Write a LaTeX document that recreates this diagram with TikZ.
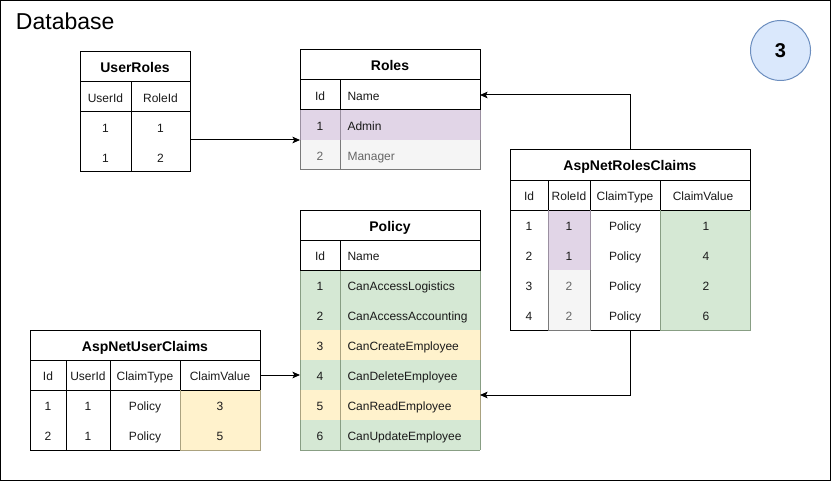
\documentclass[tikz,border=0pt]{standalone}
\usepackage{fontspec}
\setmainfont{Liberation Sans}
\usetikzlibrary{arrows.meta,calc}
\definecolor{purfill}{HTML}{E1D5E7}
\definecolor{purline}{HTML}{9A8FA0}
\definecolor{gryfill}{HTML}{F5F5F5}
\definecolor{gryline}{HTML}{7A7A7A}
\definecolor{grnfill}{HTML}{D5E8D4}
\definecolor{grnline}{HTML}{889E84}
\definecolor{ylwfill}{HTML}{FFF2CC}
\definecolor{ylwline}{HTML}{ABA27F}
\definecolor{circfill}{HTML}{DAE8FC}
\definecolor{circline}{HTML}{6C8EBF}
\definecolor{gtext}{HTML}{666666}
\definecolor{dtext}{HTML}{1A1A1A}
\begin{document}
\begin{tikzpicture}[x=0.75pt,y=-0.75pt,line width=0.75pt,
  t/.style={inner sep=0pt,anchor=base,text=dtext,font=\fontsize{9}{10}\selectfont},
  tl/.style={t,anchor=base west},
  tg/.style={t,text=gtext},
  tlg/.style={tl,text=gtext},
  ttl/.style={inner sep=0pt,anchor=base,text=black,font=\fontsize{10.5}{12}\selectfont\bfseries},
  blk/.style={draw=none,fill=none,inner sep=0pt,outer sep=0pt,rectangle},
  arr/.style={draw=black,-{Stealth[length=5.6pt,width=4.9pt,inset=1.2pt]}}]
\useasboundingbox (0,0) rectangle (831,481);
\fill[white] (0,0) rectangle (831,481);
\draw (0.5,0.5) rectangle (830.5,480.5);
\node[inner sep=0pt,anchor=base west,font=\fontsize{17.25}{20}\selectfont] (dbtitle) at (15.5,29.3) {Database};

% badge
\node[circle,draw=circline,fill=circfill,minimum size=45pt,inner sep=0pt,
  font=\fontsize{15}{18}\selectfont\bfseries] (badge) at (780.5,50.5) {3};

% ---------- UserRoles ----------
\draw (80,52) rectangle (190,172);
\draw (80,82)--(190,82) (80,112)--(190,112) (131,82)--(131,172);
\node[ttl] (urT) at (135,73) {UserRoles};
\node[t] (urH1) at (105.5,102.8) {UserId};
\node[t] (urH2) at (160.5,102.8) {RoleId};
\node[t] (ur11) at (105.5,132.8) {1};
\node[t] (ur12) at (160.5,132.8) {1};
\node[t] (ur21) at (105.5,162.8) {1};
\node[t] (ur22) at (160.5,162.8) {2};
\node[blk,minimum width=82.5pt,minimum height=45pt] (urbody) at (135,142) {};

% ---------- Roles ----------
\fill[purfill] (300,110) rectangle (480,140);
\fill[gryfill] (300,140) rectangle (480,170);
\draw (300,50) rectangle (480,110);
\draw (300,80)--(480,80) (340,80)--(340,110);
\draw[purline] (300,110)--(300,140) (340,110)--(340,140) (480,110)--(480,140);
\draw[gryline] (300,140)--(300,170)--(480,170)--(480,140) (340,140)--(340,170);
\node[ttl] (roT) at (390,71) {Roles};
\node[t] (roH1) at (320,100.8) {Id};
\node[tl] (roH2) at (347,100.8) {Name};
\node[t] (ro11) at (320,130.8) {1};
\node[tl] (ro12) at (347,130.8) {Admin};
\node[tg] (ro21) at (320,160.8) {2};
\node[tlg] (ro22) at (347,160.8) {Manager};
\node[blk,minimum width=135pt,minimum height=22.5pt] (roleshdr) at (390,95) {};
\node[blk,minimum width=135pt,minimum height=45pt] (rolesdata) at (390,140) {};

% ---------- Policy ----------
\foreach \ya/\cf/\cl in {270/grnfill/grnline,300/grnfill/grnline,330/ylwfill/ylwline,
                         360/grnfill/grnline,390/ylwfill/ylwline,420/grnfill/grnline}{
  \fill[\cf] (300,\ya) rectangle (480,\ya+30);
  \draw[\cl] (300,\ya)--(300,\ya+30) (340,\ya)--(340,\ya+30) (480,\ya)--(480,\ya+30);
}
\draw[grnline] (300,450)--(480,450);
\draw (300,210) rectangle (480,270);
\draw (300,240)--(480,240) (340,240)--(340,270);
\node[ttl] (poT) at (390,231) {Policy};
\node[t] (poH1) at (320,260.8) {Id};
\node[tl] (poH2) at (347,260.8) {Name};
\node[t] (po11) at (320,290.8) {1};
\node[tl] (po12) at (347,290.8) {CanAccessLogistics};
\node[t] (po21) at (320,320.8) {2};
\node[tl] (po22) at (347,320.8) {CanAccessAccounting};
\node[t] (po31) at (320,350.8) {3};
\node[tl] (po32) at (347,350.8) {CanCreateEmployee};
\node[t] (po41) at (320,380.8) {4};
\node[tl] (po42) at (347,380.8) {CanDeleteEmployee};
\node[t] (po51) at (320,410.8) {5};
\node[tl] (po52) at (347,410.8) {CanReadEmployee};
\node[t] (po61) at (320,440.8) {6};
\node[tl] (po62) at (347,440.8) {CanUpdateEmployee};
\node[blk,minimum width=135pt,minimum height=22.5pt] (polrow4) at (390,375) {};
\node[blk,minimum width=135pt,minimum height=22.5pt] (polrow5) at (390,405) {};

% ---------- AspNetRolesClaims ----------
\fill[purfill] (548,210) rectangle (590,270);
\fill[gryfill] (548,270) rectangle (590,330);
\fill[grnfill] (660,210) rectangle (750,330);
\draw (510,150) rectangle (750,210);
\draw (510,180)--(750,180) (548,180)--(548,210) (590,180)--(590,210) (660,180)--(660,210);
\draw (510,210)--(510,330)--(548,330) (590,330)--(660,330);
\draw[purline] (548,210)--(548,270) (590,210)--(590,270);
\draw[gryline] (548,270)--(548,330)--(590,330)--(590,270);
\draw[grnline] (660,210)--(660,330)--(750,330)--(750,210);
\node[ttl] (rcT) at (630,171) {AspNetRolesClaims};
\node[t] (rcH1) at (529,200.8) {Id};
\node[t] (rcH2) at (569,200.8) {RoleId};
\node[t] (rcH3) at (625,200.8) {ClaimType};
\node[t] (rcH4) at (703,200.8) {ClaimValue};
\node[t] (rc11) at (529,230.8) {1};
\node[t] (rc12) at (569,230.8) {1};
\node[t] (rc13) at (625,230.8) {Policy};
\node[t] (rc14) at (706,230.8) {1};
\node[t] (rc21) at (529,260.8) {2};
\node[t] (rc22) at (569,260.8) {1};
\node[t] (rc23) at (625,260.8) {Policy};
\node[t] (rc24) at (706,260.8) {4};
\node[t] (rc31) at (529,290.8) {3};
\node[tg] (rc32) at (569,290.8) {2};
\node[t] (rc33) at (625,290.8) {Policy};
\node[t] (rc34) at (706,290.8) {2};
\node[t] (rc41) at (529,320.8) {4};
\node[tg] (rc42) at (569,320.8) {2};
\node[t] (rc43) at (625,320.8) {Policy};
\node[t] (rc44) at (706,320.8) {6};
\node[blk,minimum width=180pt,minimum height=22.5pt] (rctitle) at (630,165) {};
\node[blk,minimum width=180pt,minimum height=90pt] (rcbody) at (630,270) {};

% ---------- AspNetUserClaims ----------
\fill[ylwfill] (180,390) rectangle (260,450);
\draw (30,330) rectangle (260,390);
\draw (30,360)--(260,360) (66,360)--(66,390) (110,360)--(110,390) (180,360)--(180,390);
\draw (30,390)--(30,450)--(180,450) (66,390)--(66,450) (110,390)--(110,450);
\draw[ylwline] (180,390)--(180,450)--(260,450)--(260,390);
\node[ttl] (ucT) at (145,351) {AspNetUserClaims};
\node[t] (ucH1) at (48,380.8) {Id};
\node[t] (ucH2) at (88,380.8) {UserId};
\node[t] (ucH3) at (145,380.8) {ClaimType};
\node[t] (ucH4) at (220,380.8) {ClaimValue};
\node[t] (uc11) at (48,410.8) {1};
\node[t] (uc12) at (88,410.8) {1};
\node[t] (uc13) at (145,410.8) {Policy};
\node[t] (uc14) at (220,410.8) {3};
\node[t] (uc21) at (48,440.8) {2};
\node[t] (uc22) at (88,440.8) {1};
\node[t] (uc23) at (145,440.8) {Policy};
\node[t] (uc24) at (220,440.8) {5};
\node[blk,minimum width=172.5pt,minimum height=22.5pt] (uchdr) at (145,375) {};

% ---------- connectors ----------
\draw[arr] (rolesdata.west -| urbody.east) -- (rolesdata.west);
\draw[arr] (rctitle.north) |- (roleshdr.east);
\draw[arr] (uchdr.east) -- (polrow4.west);
\coordinate (polin) at ($(polrow5.north east)+(0,5)$);
\draw[arr] (rcbody.south) |- (polin);
\end{tikzpicture}
\end{document}
